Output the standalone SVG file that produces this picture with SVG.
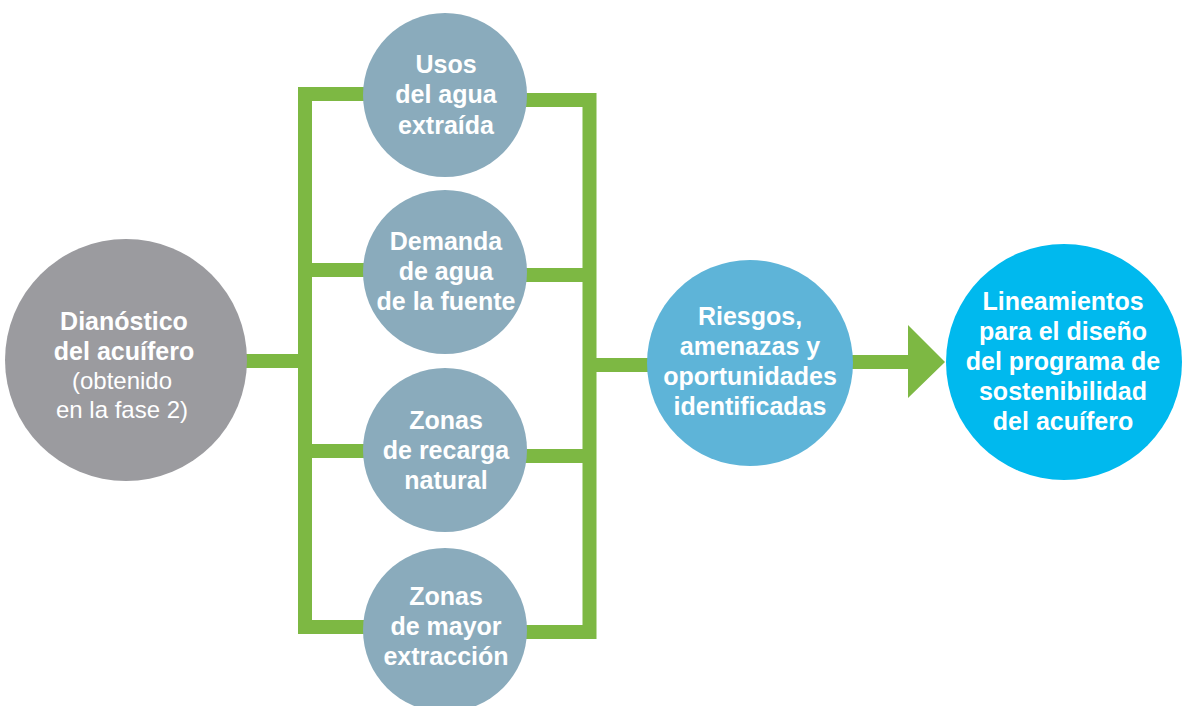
<svg xmlns="http://www.w3.org/2000/svg" width="1182" height="706" viewBox="0 0 1182 706">
<style>
.ln{fill:none;stroke:#7DB843;stroke-width:14;stroke-linejoin:miter;stroke-linecap:butt}
.t{font-family:"Liberation Sans",Arial,sans-serif;font-size:25px;font-weight:bold;fill:#fff;text-anchor:middle}
.l{font-weight:normal;font-size:24px}
</style>
<rect width="1182" height="706" fill="#fff"/>
<g id="connectors">
<path class="ln" d="M245 361H305M445 94H305V627H445M305 270H445M305 451H445"/>
<path class="ln" d="M445 100H589.5V632H445M445 275H589.5M445 456H589.5M589.5 365H660"/>
<path d="M850 355H908V325L945 362L908 398V369H850Z" fill="#7DB843"/>
</g>
<g id="n-diag">
<circle cx="126" cy="360" r="121" fill="#9B9B9F"/>
<text class="t" x="124" y="330">Dianóstico</text>
<text class="t" x="124" y="360">del acuífero</text>
<text class="t l" x="122" y="389">(obtenido</text>
<text class="t l" x="122" y="418">en la fase 2)</text>
</g>
<g id="n-usos">
<circle cx="445" cy="95" r="82" fill="#8AABBC"/>
<text class="t" x="446" y="73">Usos</text>
<text class="t" x="446" y="103">del agua</text>
<text class="t" x="446" y="134">extraída</text>
</g>
<g id="n-demanda">
<circle cx="445" cy="272" r="82" fill="#8AABBC"/>
<text class="t" x="446" y="250">Demanda</text>
<text class="t" x="446" y="280">de agua</text>
<text class="t" x="446" y="310">de la fuente</text>
</g>
<g id="n-recarga">
<circle cx="445" cy="450" r="82" fill="#8AABBC"/>
<text class="t" x="446" y="429">Zonas</text>
<text class="t" x="446" y="459">de recarga</text>
<text class="t" x="446" y="489">natural</text>
</g>
<g id="n-extraccion">
<circle cx="445" cy="630" r="82" fill="#8AABBC"/>
<text class="t" x="446" y="605">Zonas</text>
<text class="t" x="446" y="635">de mayor</text>
<text class="t" x="446" y="665">extracción</text>
</g>
<g id="n-riesgos">
<circle cx="750" cy="363" r="103" fill="#5EB4D8"/>
<text class="t" x="750" y="325">Riesgos,</text>
<text class="t" x="750" y="355">amenazas y</text>
<text class="t" x="750" y="385">oportunidades</text>
<text class="t" x="750" y="415">identificadas</text>
</g>
<g id="n-lineamientos">
<circle cx="1064" cy="362" r="118" fill="#00B9EE"/>
<text class="t" x="1063" y="310">Lineamientos</text>
<text class="t" x="1063" y="340">para el diseño</text>
<text class="t" x="1063" y="370">del programa de</text>
<text class="t" x="1063" y="400">sostenibilidad</text>
<text class="t" x="1063" y="430">del acuífero</text>
</g>
</svg>
